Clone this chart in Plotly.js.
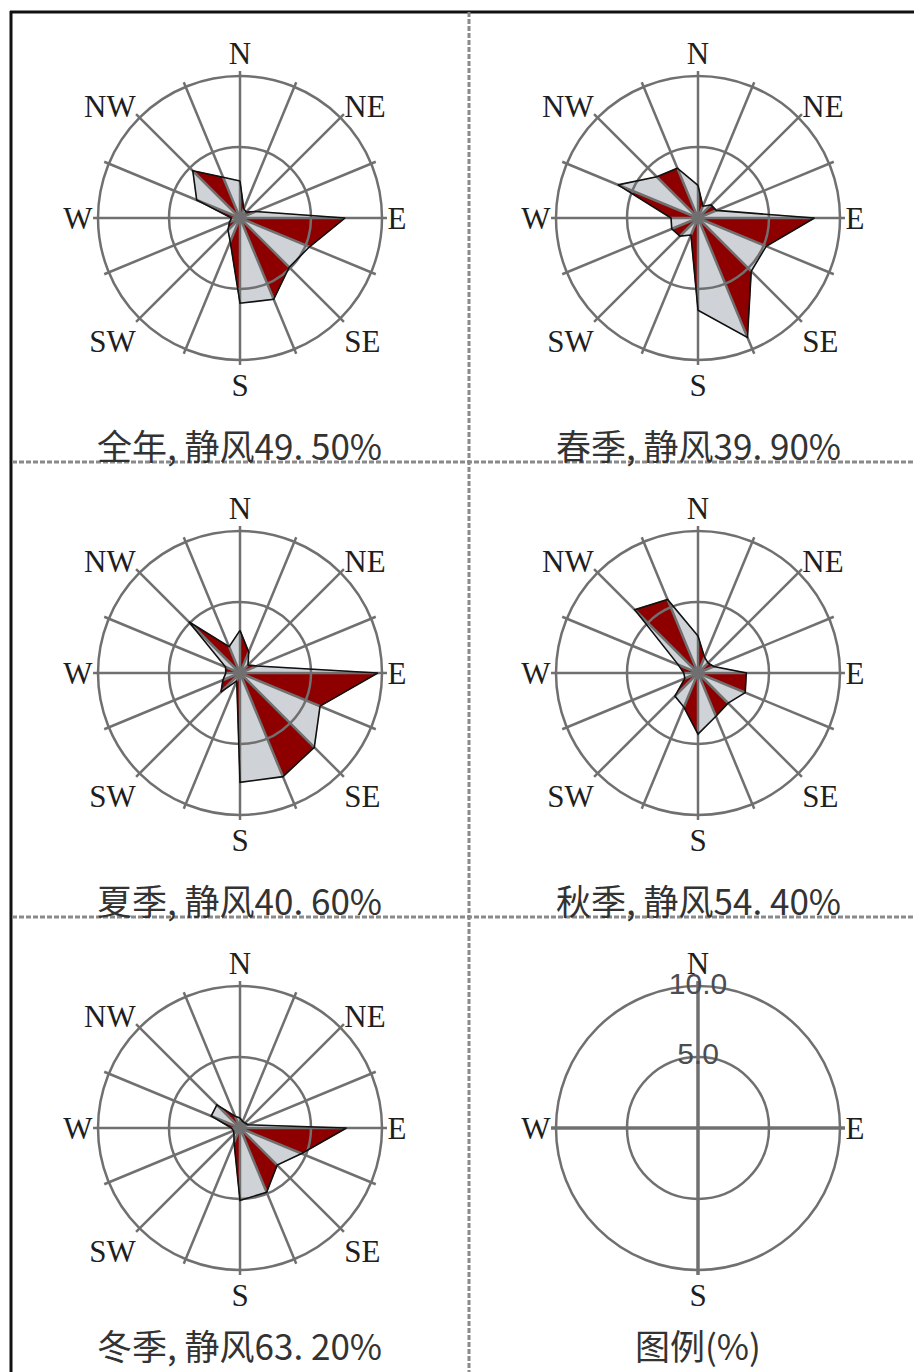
<!DOCTYPE html>
<html><head><meta charset="utf-8">
<script src="https://cdn.plot.ly/plotly-3.0.1.min.js"></script>
<style>html,body{margin:0;padding:0;background:#fff}#chart{width:914px;height:1372px}</style>
</head><body><div id="chart"></div>
<script>
// ---- data (wind direction frequency, %) ----
const directions = ['N','NNE','NE','ENE','E','ESE','SE','SSE','S','SSW','SW','WSW','W','WNW','NW','NNW'];
const directionLabels = ['N','','NE','','E','','SE','','S','','SW','','W','','NW',''];
const legendDirections = ['N','E','S','W'];

const annualFreq = [2.6, 0.7, 0.6, 1.2, 7.4, 5.3, 4.9, 6.2, 6.0, 1.8, 1.2, 0.8, 0.6, 3.3, 4.7, 3.1];
const springFreq = [2.3, 0.9, 1.3, 1.4, 8.2, 5.2, 5.3, 9.1, 6.5, 1.3, 1.8, 2.0, 1.9, 6.1, 4.1, 3.8];
const summerFreq = [3.0, 1.6, 0.8, 1.3, 9.7, 6.1, 7.4, 7.9, 7.7, 0.6, 1.9, 1.3, 1.0, 1.1, 5.1, 2.0];
const autumnFreq = [2.6, 1.2, 1.0, 1.2, 3.4, 3.6, 3.0, 3.3, 4.3, 2.6, 2.3, 1.0, 1.0, 1.5, 6.3, 5.6];
const winterFreq = [0.7, 0.5, 0.5, 0.6, 7.5, 4.7, 3.7, 4.9, 5.1, 1.1, 0.6, 0.5, 0.6, 2.2, 2.3, 0.9];

const roseTitles = ['全年, 静风49. 50%', '春季, 静风39. 90%', '夏季, 静风40. 60%', '秋季, 静风54. 40%', '冬季, 静风63. 20%'];
const legendTitle = '图例(%)';
const legendRingValues = [5, 10];
const legendRingLabels = ['5.0', '10.0'];

// ---- layout constants ----
const W = 914, H = 1372;
const rMax = 10.35;          // radial range end (spokes slightly past the 10 % ring)
const pxPerUnit = 14.2;
const halfPx = rMax * pxPerUnit;
const cellCenters = [[240,218],[698,218],[240,673],[698,673],[240,1128],[698,1128]];
const titleY = [445, 445, 900, 900, 1344, 1344];
const gridColor = '#707070';
const redFill = '#8e0000', grayFill = '#cfd2d6';

function domainFor(c){
  return {x:[(c[0]-halfPx)/W, (c[0]+halfPx)/W], y:[(H-c[1]-halfPx)/H, (H-c[1]+halfPx)/H]};
}
const catAxisBase = {type:'category', categoryorder:'array', categoryarray:directions, period:16,
  rotation:90, direction:'clockwise'};
const labelFont = {family:'Liberation Serif', size:31, color:'#1e1e1e'};

const data = [];
const layout = {width:W, height:H, margin:{l:0,r:0,t:0,b:0}, paper_bgcolor:'#fff',
  showlegend:false, annotations:[], shapes:[]};

const seasons = [annualFreq, springFreq, summerFreq, autumnFreq, winterFreq];
seasons.forEach((vals, k) => {
  const dataId = k === 0 ? 'polar' : 'polar' + (k+1);
  const gridId = 'polar' + (k+7);
  const redR = [], redT = [], grayR = [], grayT = [];
  for (let i = 0; i < directions.length; i++) {
    const j = (i + 1) % directions.length;
    const R = i % 2 === 0 ? redR : grayR, T = i % 2 === 0 ? redT : grayT;
    R.push(0, vals[i], vals[j], 0, null);
    T.push(directions[i], directions[i], directions[j], directions[j], null);
  }
  data.push({type:'scatterpolar', subplot:dataId, r:grayR, theta:grayT, mode:'lines', fill:'toself',
    fillcolor:grayFill, line:{color:'#a8acb0', width:0.8}, hoverinfo:'skip'});
  data.push({type:'scatterpolar', subplot:dataId, r:redR, theta:redT, mode:'lines', fill:'toself',
    fillcolor:redFill, line:{color:'#5a0000', width:0.8}, hoverinfo:'skip'});
  data.push({type:'scatterpolar', subplot:gridId, r:vals.concat([vals[0]]), theta:directions.concat([directions[0]]),
    mode:'lines', line:{color:'#111', width:1.6}, hoverinfo:'skip'});
  const dom = domainFor(cellCenters[k]);
  layout[dataId] = {domain:dom, bgcolor:'rgba(0,0,0,0)',
    angularaxis:Object.assign({}, catAxisBase, {showgrid:false, showline:false, showticklabels:false, ticks:''}),
    radialaxis:{range:[0,rMax], autorange:false, visible:false}};
  layout[gridId] = {domain:dom, bgcolor:'rgba(0,0,0,0)',
    angularaxis:Object.assign({}, catAxisBase, {tickmode:'array', tickvals:directions, ticktext:directionLabels,
      showgrid:true, gridcolor:gridColor, gridwidth:2.5, showline:false, ticks:'', tickfont:labelFont}),
    radialaxis:{range:[0,rMax], autorange:false, tickmode:'array', tickvals:legendRingValues, showgrid:true,
      gridcolor:gridColor, gridwidth:2.5, showline:false, showticklabels:false, ticks:''}};
});

// legend cell
const legendId = 'polar6';
data.push({type:'scatterpolar', subplot:legendId, r:legendRingValues, theta:legendRingValues.map(() => 'N'),
  mode:'text', text:legendRingLabels, textposition:'middle center',
  textfont:{family:'Liberation Sans', size:30, color:'#4a4d52'}, hoverinfo:'skip'});
layout[legendId] = {domain:domainFor(cellCenters[5]), bgcolor:'rgba(0,0,0,0)',
  angularaxis:Object.assign({}, catAxisBase, {tickmode:'array', tickvals:legendDirections, ticktext:legendDirections,
    showgrid:true, gridcolor:gridColor, gridwidth:3.5, showline:false, ticks:'', tickfont:labelFont}),
  radialaxis:{range:[0,rMax], autorange:false, tickmode:'array', tickvals:legendRingValues, showgrid:true,
    gridcolor:gridColor, gridwidth:2.5, showline:false, showticklabels:false, ticks:''}};

// titles
roseTitles.concat([legendTitle]).forEach((t, k) => {
  layout.annotations.push({text:t, xref:'paper', yref:'paper', x:cellCenters[k][0]/W, y:(H-titleY[k])/H,
    xanchor:'center', yanchor:'middle', showarrow:false,
    font:{family:'Noto Sans CJK SC', size:35, color:'#333'}});
});

// frame and separators
const px = x => x / W, py = y => (H - y) / H;
layout.shapes.push(
  {type:'line', xref:'paper', yref:'paper', x0:px(10), x1:px(914), y0:py(12), y1:py(12), line:{color:'#111', width:3}},
  {type:'line', xref:'paper', yref:'paper', x0:px(11), x1:px(11), y0:py(11), y1:py(1372), line:{color:'#111', width:3}},
  {type:'line', xref:'paper', yref:'paper', x0:px(469), x1:px(469), y0:py(12), y1:py(1372), line:{color:'#8a8a8a', width:3, dash:'5px,2px'}},
  {type:'line', xref:'paper', yref:'paper', x0:px(12), x1:px(914), y0:py(462), y1:py(462), line:{color:'#8a8a8a', width:3, dash:'5px,2px'}},
  {type:'line', xref:'paper', yref:'paper', x0:px(12), x1:px(914), y0:py(917), y1:py(917), line:{color:'#8a8a8a', width:3, dash:'5px,2px'}}
);

Plotly.newPlot('chart', data, layout, {staticPlot:true, displayModeBar:false});
</script></body></html>
